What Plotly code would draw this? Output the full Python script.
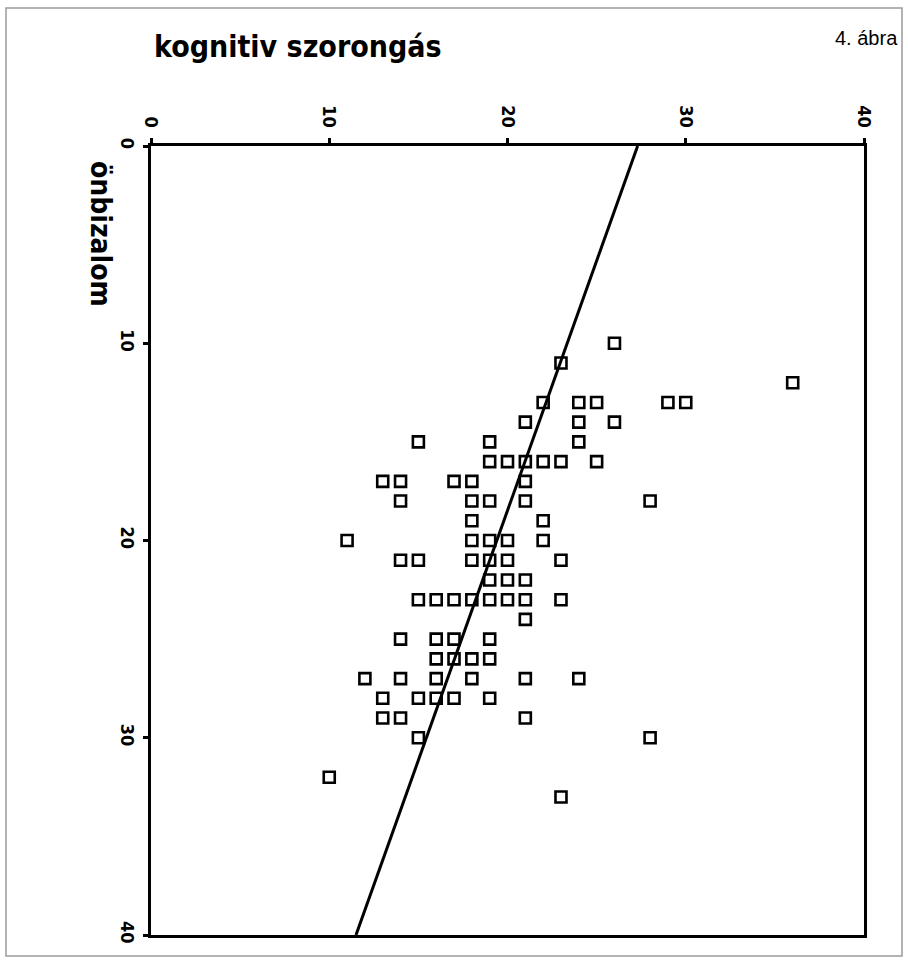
import plotly.graph_objects as go

# Scatter data: kognitív szorongás (x) vs önbizalom (y)
kognitiv = [26, 23, 36, 22, 24, 25, 29, 30, 21, 24, 26, 15, 19, 24,
            19, 20, 21, 22, 23, 25, 13, 14, 17, 18, 21, 14, 18, 19, 21, 28,
            18, 22, 11, 18, 19, 20, 22, 14, 15, 18, 19, 20, 23, 19, 20, 21,
            15, 16, 17, 18, 19, 20, 21, 23, 21, 14, 16, 17, 19, 16, 17, 18, 19,
            12, 14, 16, 18, 21, 24, 13, 15, 16, 17, 19, 13, 14, 21, 15, 28, 10, 23]
onbizalom = [10, 11, 12, 13, 13, 13, 13, 13, 14, 14, 14, 15, 15, 15,
             16, 16, 16, 16, 16, 16, 17, 17, 17, 17, 17, 18, 18, 18, 18, 18,
             19, 19, 20, 20, 20, 20, 20, 21, 21, 21, 21, 21, 21, 22, 22, 22,
             23, 23, 23, 23, 23, 23, 23, 23, 24, 25, 25, 25, 25, 26, 26, 26, 26,
             27, 27, 27, 27, 27, 27, 28, 28, 28, 28, 28, 29, 29, 29, 30, 30, 32, 33]

# Regression line endpoints
line_y = [0, 40]
line_x = [27.3, 11.5]

tick_vals = [0, 10, 20, 30, 40]
tick_text = ["0", "10", "20", "30", "40"]

fig = go.Figure()
fig.add_trace(go.Scatter(
    x=line_x, y=line_y, mode="lines",
    line=dict(color="black", width=3), hoverinfo="skip", showlegend=False))
fig.add_trace(go.Scatter(
    x=kognitiv, y=onbizalom, mode="markers",
    marker=dict(symbol="square-open", size=11, color="black",
                line=dict(color="black", width=2.6)),
    showlegend=False))

tick_font = dict(family="DejaVu Sans Condensed", size=18, color="black", weight="bold")

fig.update_layout(
    width=908, height=960,
    margin=dict(l=151, r=44, t=146, b=25),
    paper_bgcolor="white", plot_bgcolor="white",
    xaxis=dict(range=[0, 40], side="top", tickvals=tick_vals, ticktext=tick_text,
               tickangle=90, tickfont=tick_font, showgrid=False, zeroline=False,
               showline=True, linecolor="black", linewidth=3, mirror=True,
               ticks="outside", ticklen=5, tickwidth=3, tickcolor="black",
               ticklabelstandoff=4),
    yaxis=dict(range=[40, 0], tickvals=tick_vals, ticktext=tick_text,
               tickangle=90, tickfont=tick_font, showgrid=False, zeroline=False,
               showline=True, linecolor="black", linewidth=3, mirror=True,
               ticks="outside", ticklen=5, tickwidth=3, tickcolor="black"),
    shapes=[dict(type="rect", xref="paper", yref="paper",
                 x0=-145/713, x1=(902-151)/713, y0=-(956-935)/789, y1=(935-8)/789,
                 line=dict(color="#9a9a9a", width=1.5), layer="below")],
    annotations=[
        dict(text="kognitiv szorongás", xref="paper", yref="paper",
             x=(152-151)/713, y=(935-47)/789, xanchor="left", yanchor="middle",
             showarrow=False,
             font=dict(family="DejaVu Sans Condensed", size=30, color="black", weight="bold")),
        dict(text="4. ábra", xref="paper", yref="paper",
             x=(900-151)/713, y=(935-38)/789, xanchor="right", yanchor="middle",
             showarrow=False,
             font=dict(family="Liberation Sans Narrow, Liberation Sans", size=20, color="black")),
        dict(text="önbizalom", xref="paper", yref="paper",
             x=(101-151)/713, y=(935-234)/789, xanchor="center", yanchor="middle",
             textangle=90, showarrow=False,
             font=dict(family="DejaVu Sans Condensed", size=28, color="black", weight="bold")),
    ],
)

fig.write_html("out.html")
